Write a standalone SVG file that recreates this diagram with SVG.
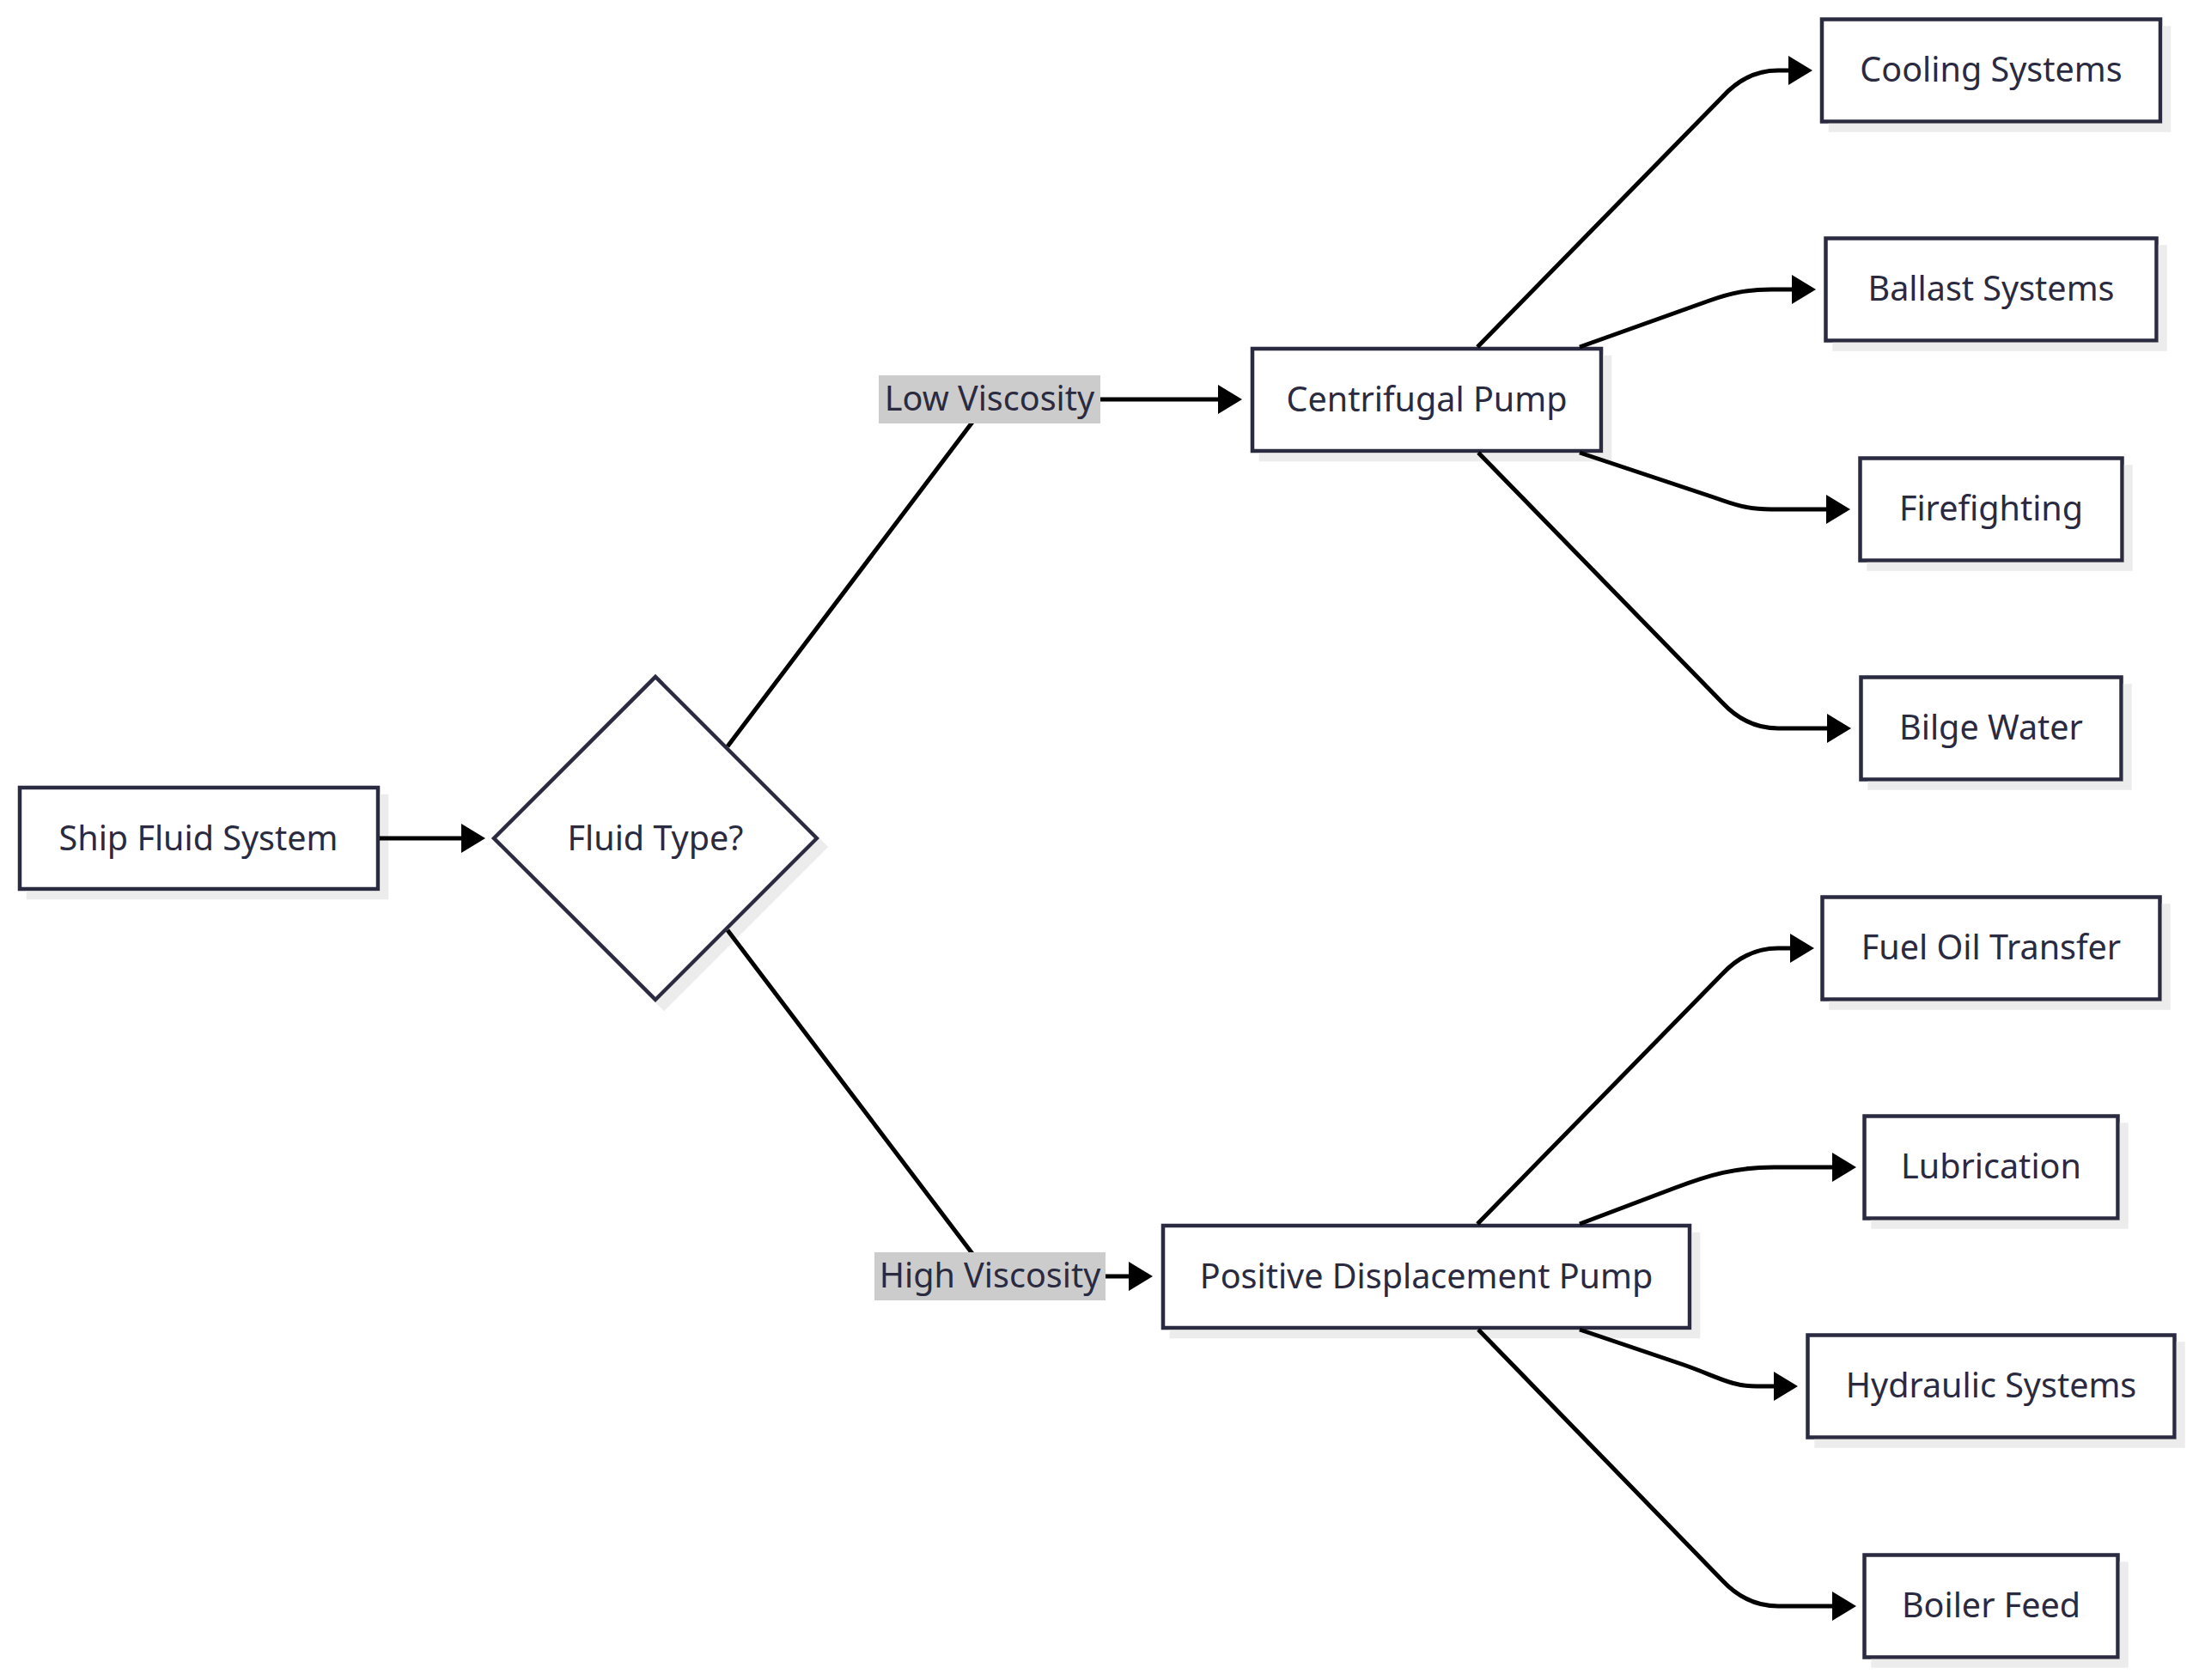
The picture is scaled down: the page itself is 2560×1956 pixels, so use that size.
<svg xmlns="http://www.w3.org/2000/svg" width="2560" height="1956" viewBox="0 0 2560 1956">
<defs>
<style>
.node{fill:#ffffff;stroke:#2a2a40;stroke-width:4.5;filter:url(#sh);}
.t{font-family:"Noto Sans","Open Sans",sans-serif;font-size:39.5px;fill:#2a2a40;text-anchor:middle;}
.e{fill:none;stroke:#000000;stroke-width:5;stroke-linejoin:round;marker-end:url(#arr);}
.lbl{fill:#cccccc;stroke:none;}
</style>
<filter id="sh" x="-10%" y="-10%" width="130%" height="140%">
<feOffset in="SourceAlpha" dx="10" dy="10" result="o"/>
<feFlood flood-color="#ececec" result="c"/>
<feComposite in="c" in2="o" operator="in" result="s"/>
<feMerge><feMergeNode in="s"/><feMergeNode in="SourceGraphic"/></feMerge>
</filter>
<marker id="arr" markerUnits="userSpaceOnUse" markerWidth="28" markerHeight="34" viewBox="0 0 28 34" refX="0" refY="17" orient="auto">
<path d="M0,0 L28,17 L0,34 z" fill="#000000"/>
</marker>
</defs>
<rect x="0" y="0" width="2560" height="1956" fill="#ffffff"/>

<g id="ship">
<rect class="node" x="23" y="917" width="417" height="118"/>
<text class="t" x="231" y="990">Ship Fluid System</text>
</g>
<g id="fluid-type">
<polygon class="node" points="575,976 763,788 951,976 763,1164"/>
<text class="t" x="763" y="990">Fluid Type?</text>
</g>
<g id="centrifugal">
<rect class="node" x="1458" y="406" width="406" height="119"/>
<text class="t" x="1661" y="479">Centrifugal Pump</text>
</g>
<g id="positive-displacement">
<rect class="node" x="1354" y="1427" width="613" height="119"/>
<text class="t" x="1660.5" y="1500">Positive Displacement Pump</text>
</g>
<g id="cooling">
<rect class="node" x="2121" y="22.5" width="394" height="119"/>
<text class="t" x="2318" y="95">Cooling Systems</text>
</g>
<g id="ballast">
<rect class="node" x="2125.5" y="277.5" width="385" height="119"/>
<text class="t" x="2318" y="350">Ballast Systems</text>
</g>
<g id="firefighting">
<rect class="node" x="2165.5" y="533.5" width="305" height="119"/>
<text class="t" x="2318" y="606">Firefighting</text>
</g>
<g id="bilge">
<rect class="node" x="2166.5" y="788.5" width="303" height="119"/>
<text class="t" x="2318" y="861">Bilge Water</text>
</g>
<g id="fuel-oil">
<rect class="node" x="2121.5" y="1044.5" width="393" height="119"/>
<text class="t" x="2318" y="1117">Fuel Oil Transfer</text>
</g>
<g id="lubrication">
<rect class="node" x="2170.5" y="1299.5" width="295" height="119"/>
<text class="t" x="2318" y="1372">Lubrication</text>
</g>
<g id="hydraulic">
<rect class="node" x="2104.5" y="1554.5" width="427" height="119"/>
<text class="t" x="2318" y="1627">Hydraulic Systems</text>
</g>
<g id="boiler">
<rect class="node" x="2170.5" y="1810.5" width="295" height="119"/>
<text class="t" x="2318" y="1883">Boiler Feed</text>
</g>

<g id="edges">
<path class="e" d="M442,976 L537,976"/>
<path class="e" d="M847,869 L1152,465 L1418,465"/>
<path class="e" d="M847,1083 L1152,1486 L1314,1486"/>
<path class="e" d="M1720,404 L2005,113 Q2033,82 2070,82 L2082,82"/>
<path class="e" d="M1839,404 L1990,350 C2015,341 2035,337 2062,337 L2086,337"/>
<path class="e" d="M1839,527 L1995,579 C2020,588 2035,593 2062,593 L2126,593"/>
<path class="e" d="M1721,527 L2005,818 Q2033,848 2070,848 L2127,848"/>
<path class="e" d="M1720,1425 L2005,1134 Q2033,1104 2070,1104 L2084,1104"/>
<path class="e" d="M1839,1425 L1950,1383 C1990,1368 2020,1359 2065,1359 L2133,1359"/>
<path class="e" d="M1839,1548 L1960,1589 C2000,1603 2015,1614 2045,1614 L2065,1614"/>
<path class="e" d="M1721,1548 L2005,1840 Q2033,1870 2070,1870 L2133,1870"/>
</g>

<g id="label-low">
<rect class="lbl" x="1023" y="437" width="258" height="56"/>
<text class="t" x="1152" y="478">Low Viscosity</text>
</g>
<g id="label-high">
<rect class="lbl" x="1018" y="1458" width="269" height="56"/>
<text class="t" x="1152.5" y="1499">High Viscosity</text>
</g>
</svg>
